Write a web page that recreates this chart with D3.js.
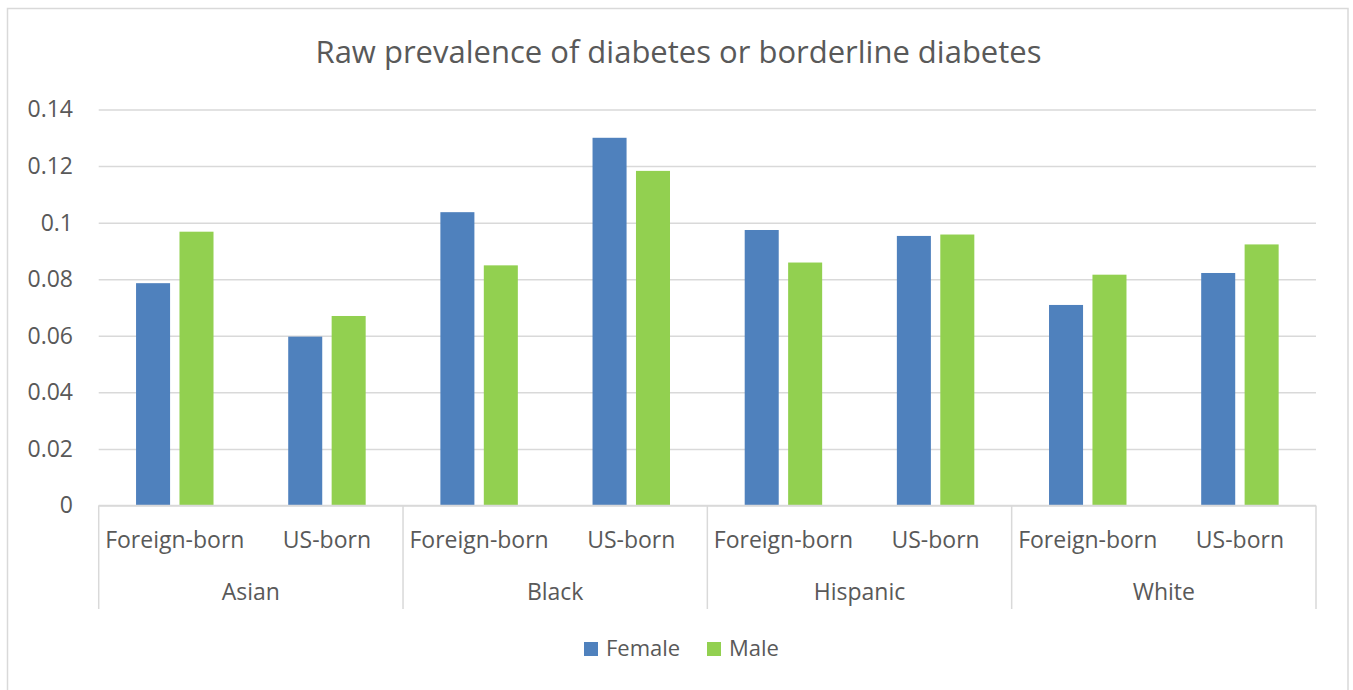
<!DOCTYPE html>
<html>
<head>
<meta charset="utf-8">
<script src="https://cdn.jsdelivr.net/npm/d3@7"></script>
<style>
  html, body { margin: 0; padding: 0; background: #fff; }
  svg { display: block; font-family: "Open Sans", "Noto Sans", sans-serif; }
</style>
</head>
<body>
<svg id="chart" width="1353" height="690"></svg>
<script>
// Raw prevalence of diabetes or borderline diabetes, by race, nativity and sex
const groups = ["Asian", "Black", "Hispanic", "White"];
const births = ["Foreign-born", "US-born"];
const series = ["Female", "Male"];
const female = [0.0786, 0.0597, 0.1037, 0.1300, 0.0974, 0.0953, 0.0709, 0.0822];
const male   = [0.0968, 0.0670, 0.0849, 0.1183, 0.0859, 0.0958, 0.0816, 0.0923];
const yTicks = [0, 0.02, 0.04, 0.06, 0.08, 0.1, 0.12, 0.14];
const colors = ["#4f81bd", "#92d050"];

const W = 1353, H = 690;
const plot = { left: 98.7, right: 1316, top: 109.5, bottom: 505.5 };
const textColor = "#595959";
const lineColor = "#d9d9d9";

// one row per (group, nativity) category
const cats = [];
groups.forEach(g => births.forEach(b => cats.push({ key: g + "|" + b, group: g, birth: b })));
cats.forEach((c, i) => { c.values = [female[i], male[i]]; });

const svg = d3.select("#chart");

// outer chart frame
svg.append("rect")
  .attr("x", 7.5).attr("y", 8.5)
  .attr("width", 1340.5).attr("height", 700)
  .attr("fill", "#fff").attr("stroke", lineColor).attr("stroke-width", 1.5);

const x0 = d3.scaleBand().domain(cats.map(c => c.key)).range([plot.left, plot.right]).padding(0);
const x1 = d3.scaleBand().domain(series).range([0, x0.bandwidth()]).paddingInner(0.2166).paddingOuter(0.86);
const y = d3.scaleLinear().domain([0, 0.14]).range([plot.bottom, plot.top]);

// horizontal gridlines + y tick labels
const yAxis = d3.axisLeft(y)
  .tickValues(yTicks)
  .tickSize(-(plot.right - plot.left))
  .tickPadding(25.7)
  .tickFormat(d => d === 0 ? "0" : String(+d.toFixed(2)));

const gy = svg.append("g").attr("transform", `translate(${plot.left},0)`).call(yAxis);
gy.select(".domain").remove();
gy.selectAll(".tick line").attr("stroke", lineColor).attr("stroke-width", 1.5);
gy.selectAll(".tick text")
  .attr("fill", textColor)
  .attr("font-size", 23)
  .attr("font-family", "'Open Sans', sans-serif");

// bars
const catG = svg.append("g").selectAll("g")
  .data(cats).join("g")
  .attr("transform", d => `translate(${x0(d.key)},0)`);

catG.selectAll("rect")
  .data(d => d.values.map((v, i) => ({ s: series[i], v, i })))
  .join("rect")
  .attr("x", d => x1(d.s))
  .attr("width", x1.bandwidth())
  .attr("y", d => y(d.v))
  .attr("height", d => y(0) - y(d.v))
  .attr("fill", d => colors[d.i]);

// category axis: baseline, separators, labels
const axisG = svg.append("g");
axisG.append("line")
  .attr("x1", plot.left).attr("x2", plot.right)
  .attr("y1", plot.bottom).attr("y2", plot.bottom)
  .attr("stroke", lineColor).attr("stroke-width", 1.5);

const groupScale = d3.scaleBand().domain(groups).range([plot.left, plot.right]).padding(0);
const sepX = groups.map(g => groupScale(g)).concat([plot.right]);
axisG.selectAll("line.sep")
  .data(sepX).join("line")
  .attr("class", "sep")
  .attr("x1", d => d).attr("x2", d => d)
  .attr("y1", plot.bottom).attr("y2", 609)
  .attr("stroke", lineColor).attr("stroke-width", 1.5);

axisG.selectAll("text.cat")
  .data(cats).join("text")
  .attr("class", "cat")
  .attr("x", d => x0(d.key) + x0.bandwidth() / 2)
  .attr("y", 547.5)
  .attr("text-anchor", "middle")
  .attr("fill", textColor)
  .attr("font-size", 23)
  .text(d => d.birth);

axisG.selectAll("text.grp")
  .data(groups).join("text")
  .attr("class", "grp")
  .attr("x", d => groupScale(d) + groupScale.bandwidth() / 2)
  .attr("y", 600)
  .attr("text-anchor", "middle")
  .attr("fill", textColor)
  .attr("font-size", 23)
  .text(d => d);

// title
svg.append("text")
  .attr("x", 678.5).attr("y", 63)
  .attr("text-anchor", "middle")
  .attr("fill", textColor)
  .attr("font-size", 31)
  .text("Raw prevalence of diabetes or borderline diabetes");

// legend
const legend = svg.append("g");
const legendX = [584, 707];
series.forEach((s, i) => {
  legend.append("rect")
    .attr("x", legendX[i]).attr("y", 642)
    .attr("width", 14).attr("height", 14)
    .attr("fill", colors[i]);
  legend.append("text")
    .attr("x", legendX[i] + 22).attr("y", 656)
    .attr("fill", textColor)
    .attr("font-size", 22)
    .text(s);
});
</script>
</body>
</html>
